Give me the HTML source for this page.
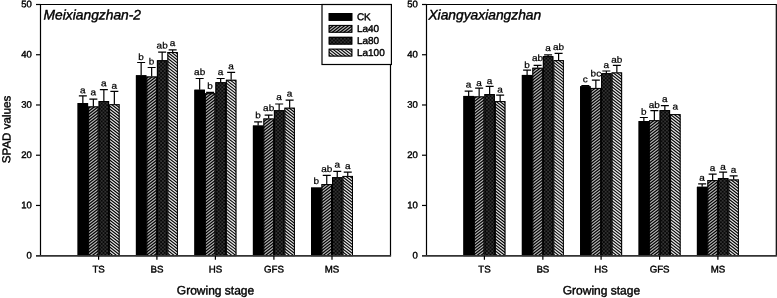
<!DOCTYPE html>
<html><head><meta charset="utf-8"><style>
html,body{margin:0;padding:0;background:#fff;}
body{width:777px;height:298px;overflow:hidden;}
svg{display:block;font-family:"Liberation Sans",sans-serif;filter:blur(0.3px);}
text{stroke:#000;stroke-width:0.4px;}
.l{stroke-width:0.25px;}
</style></head><body>
<svg width="777" height="298" viewBox="0 0 777 298">
<defs>
<pattern id="p80" patternUnits="userSpaceOnUse" width="3.6" height="3.6">
<rect width="3.6" height="3.6" fill="#080808"/>
<circle cx="0.9" cy="0.9" r="0.85" fill="#444"/>
<circle cx="2.7" cy="2.7" r="0.85" fill="#444"/>
</pattern>
<clipPath id="c1"><rect x="88.1" y="106.4" width="10.5" height="149.3"/><rect x="146.4" y="76.5" width="10.5" height="179.2"/><rect x="204.9" y="93.2" width="10.5" height="162.5"/><rect x="263.4" y="118.5" width="10.5" height="137.2"/><rect x="321.5" y="184.1" width="10.5" height="71.6"/><rect x="473.9" y="96.4" width="10.5" height="159.3"/><rect x="532.35" y="67.8" width="10.5" height="187.9"/><rect x="590.6" y="87.9" width="10.5" height="167.8"/><rect x="649.1" y="120.2" width="10.5" height="135.5"/><rect x="707.4" y="180.1" width="10.5" height="75.6"/></clipPath>
<clipPath id="l1"><rect x="328.7" y="24.9" width="23.6" height="7.8"/></clipPath>
<clipPath id="c3"><rect x="109.1" y="104.2" width="10.5" height="151.5"/><rect x="167.4" y="52" width="10.5" height="203.7"/><rect x="225.9" y="79.8" width="10.5" height="175.9"/><rect x="284.4" y="107.7" width="10.5" height="148"/><rect x="342.5" y="175.9" width="10.5" height="79.8"/><rect x="494.9" y="101.1" width="10.5" height="154.6"/><rect x="553.35" y="60.1" width="10.5" height="195.6"/><rect x="611.6" y="72.4" width="10.5" height="183.3"/><rect x="670.1" y="114.1" width="10.5" height="141.6"/><rect x="728.4" y="179.5" width="10.5" height="76.2"/></clipPath>
<clipPath id="l3"><rect x="328.7" y="48.7" width="23.6" height="7.8"/></clipPath>
<path id="s40" stroke="#b4b4b4" stroke-width="1.18" fill="none" d="M-5,-6.1L782,-619.96M-5,-3.1L782,-616.96M-5,-0.1L782,-613.96M-5,2.9L782,-610.96M-5,5.9L782,-607.96M-5,8.9L782,-604.96M-5,11.9L782,-601.96M-5,14.9L782,-598.96M-5,17.9L782,-595.96M-5,20.9L782,-592.96M-5,23.9L782,-589.96M-5,26.9L782,-586.96M-5,29.9L782,-583.96M-5,32.9L782,-580.96M-5,35.9L782,-577.96M-5,38.9L782,-574.96M-5,41.9L782,-571.96M-5,44.9L782,-568.96M-5,47.9L782,-565.96M-5,50.9L782,-562.96M-5,53.9L782,-559.96M-5,56.9L782,-556.96M-5,59.9L782,-553.96M-5,62.9L782,-550.96M-5,65.9L782,-547.96M-5,68.9L782,-544.96M-5,71.9L782,-541.96M-5,74.9L782,-538.96M-5,77.9L782,-535.96M-5,80.9L782,-532.96M-5,83.9L782,-529.96M-5,86.9L782,-526.96M-5,89.9L782,-523.96M-5,92.9L782,-520.96M-5,95.9L782,-517.96M-5,98.9L782,-514.96M-5,101.9L782,-511.96M-5,104.9L782,-508.96M-5,107.9L782,-505.96M-5,110.9L782,-502.96M-5,113.9L782,-499.96M-5,116.9L782,-496.96M-5,119.9L782,-493.96M-5,122.9L782,-490.96M-5,125.9L782,-487.96M-5,128.9L782,-484.96M-5,131.9L782,-481.96M-5,134.9L782,-478.96M-5,137.9L782,-475.96M-5,140.9L782,-472.96M-5,143.9L782,-469.96M-5,146.9L782,-466.96M-5,149.9L782,-463.96M-5,152.9L782,-460.96M-5,155.9L782,-457.96M-5,158.9L782,-454.96M-5,161.9L782,-451.96M-5,164.9L782,-448.96M-5,167.9L782,-445.96M-5,170.9L782,-442.96M-5,173.9L782,-439.96M-5,176.9L782,-436.96M-5,179.9L782,-433.96M-5,182.9L782,-430.96M-5,185.9L782,-427.96M-5,188.9L782,-424.96M-5,191.9L782,-421.96M-5,194.9L782,-418.96M-5,197.9L782,-415.96M-5,200.9L782,-412.96M-5,203.9L782,-409.96M-5,206.9L782,-406.96M-5,209.9L782,-403.96M-5,212.9L782,-400.96M-5,215.9L782,-397.96M-5,218.9L782,-394.96M-5,221.9L782,-391.96M-5,224.9L782,-388.96M-5,227.9L782,-385.96M-5,230.9L782,-382.96M-5,233.9L782,-379.96M-5,236.9L782,-376.96M-5,239.9L782,-373.96M-5,242.9L782,-370.96M-5,245.9L782,-367.96M-5,248.9L782,-364.96M-5,251.9L782,-361.96M-5,254.9L782,-358.96M-5,257.9L782,-355.96M-5,260.9L782,-352.96M-5,263.9L782,-349.96M-5,266.9L782,-346.96M-5,269.9L782,-343.96M-5,272.9L782,-340.96M-5,275.9L782,-337.96M-5,278.9L782,-334.96M-5,281.9L782,-331.96M-5,284.9L782,-328.96M-5,287.9L782,-325.96M-5,290.9L782,-322.96M-5,293.9L782,-319.96M-5,296.9L782,-316.96M-5,299.9L782,-313.96M-5,302.9L782,-310.96M-5,305.9L782,-307.96M-5,308.9L782,-304.96M-5,311.9L782,-301.96M-5,314.9L782,-298.96M-5,317.9L782,-295.96M-5,320.9L782,-292.96M-5,323.9L782,-289.96M-5,326.9L782,-286.96M-5,329.9L782,-283.96M-5,332.9L782,-280.96M-5,335.9L782,-277.96M-5,338.9L782,-274.96M-5,341.9L782,-271.96M-5,344.9L782,-268.96M-5,347.9L782,-265.96M-5,350.9L782,-262.96M-5,353.9L782,-259.96M-5,356.9L782,-256.96M-5,359.9L782,-253.96M-5,362.9L782,-250.96M-5,365.9L782,-247.96M-5,368.9L782,-244.96M-5,371.9L782,-241.96M-5,374.9L782,-238.96M-5,377.9L782,-235.96M-5,380.9L782,-232.96M-5,383.9L782,-229.96M-5,386.9L782,-226.96M-5,389.9L782,-223.96M-5,392.9L782,-220.96M-5,395.9L782,-217.96M-5,398.9L782,-214.96M-5,401.9L782,-211.96M-5,404.9L782,-208.96M-5,407.9L782,-205.96M-5,410.9L782,-202.96M-5,413.9L782,-199.96M-5,416.9L782,-196.96M-5,419.9L782,-193.96M-5,422.9L782,-190.96M-5,425.9L782,-187.96M-5,428.9L782,-184.96M-5,431.9L782,-181.96M-5,434.9L782,-178.96M-5,437.9L782,-175.96M-5,440.9L782,-172.96M-5,443.9L782,-169.96M-5,446.9L782,-166.96M-5,449.9L782,-163.96M-5,452.9L782,-160.96M-5,455.9L782,-157.96M-5,458.9L782,-154.96M-5,461.9L782,-151.96M-5,464.9L782,-148.96M-5,467.9L782,-145.96M-5,470.9L782,-142.96M-5,473.9L782,-139.96M-5,476.9L782,-136.96M-5,479.9L782,-133.96M-5,482.9L782,-130.96M-5,485.9L782,-127.96M-5,488.9L782,-124.96M-5,491.9L782,-121.96M-5,494.9L782,-118.96M-5,497.9L782,-115.96M-5,500.9L782,-112.96M-5,503.9L782,-109.96M-5,506.9L782,-106.96M-5,509.9L782,-103.96M-5,512.9L782,-100.96M-5,515.9L782,-97.96M-5,518.9L782,-94.96M-5,521.9L782,-91.96M-5,524.9L782,-88.96M-5,527.9L782,-85.96M-5,530.9L782,-82.96M-5,533.9L782,-79.96M-5,536.9L782,-76.96M-5,539.9L782,-73.96M-5,542.9L782,-70.96M-5,545.9L782,-67.96M-5,548.9L782,-64.96M-5,551.9L782,-61.96M-5,554.9L782,-58.96M-5,557.9L782,-55.96M-5,560.9L782,-52.96M-5,563.9L782,-49.96M-5,566.9L782,-46.96M-5,569.9L782,-43.96M-5,572.9L782,-40.96M-5,575.9L782,-37.96M-5,578.9L782,-34.96M-5,581.9L782,-31.96M-5,584.9L782,-28.96M-5,587.9L782,-25.96M-5,590.9L782,-22.96M-5,593.9L782,-19.96M-5,596.9L782,-16.96M-5,599.9L782,-13.96M-5,602.9L782,-10.96M-5,605.9L782,-7.96M-5,608.9L782,-4.96M-5,611.9L782,-1.96M-5,614.9L782,1.04M-5,617.9L782,4.04M-5,620.9L782,7.04M-5,623.9L782,10.04M-5,626.9L782,13.04M-5,629.9L782,16.04M-5,632.9L782,19.04M-5,635.9L782,22.04M-5,638.9L782,25.04M-5,641.9L782,28.04M-5,644.9L782,31.04M-5,647.9L782,34.04M-5,650.9L782,37.04M-5,653.9L782,40.04M-5,656.9L782,43.04M-5,659.9L782,46.04M-5,662.9L782,49.04M-5,665.9L782,52.04M-5,668.9L782,55.04M-5,671.9L782,58.04M-5,674.9L782,61.04M-5,677.9L782,64.04M-5,680.9L782,67.04M-5,683.9L782,70.04M-5,686.9L782,73.04M-5,689.9L782,76.04M-5,692.9L782,79.04M-5,695.9L782,82.04M-5,698.9L782,85.04M-5,701.9L782,88.04M-5,704.9L782,91.04M-5,707.9L782,94.04M-5,710.9L782,97.04M-5,713.9L782,100.04M-5,716.9L782,103.04M-5,719.9L782,106.04M-5,722.9L782,109.04M-5,725.9L782,112.04M-5,728.9L782,115.04M-5,731.9L782,118.04M-5,734.9L782,121.04M-5,737.9L782,124.04M-5,740.9L782,127.04M-5,743.9L782,130.04M-5,746.9L782,133.04M-5,749.9L782,136.04M-5,752.9L782,139.04M-5,755.9L782,142.04M-5,758.9L782,145.04M-5,761.9L782,148.04M-5,764.9L782,151.04M-5,767.9L782,154.04M-5,770.9L782,157.04M-5,773.9L782,160.04M-5,776.9L782,163.04M-5,779.9L782,166.04M-5,782.9L782,169.04M-5,785.9L782,172.04M-5,788.9L782,175.04M-5,791.9L782,178.04M-5,794.9L782,181.04M-5,797.9L782,184.04M-5,800.9L782,187.04M-5,803.9L782,190.04M-5,806.9L782,193.04M-5,809.9L782,196.04M-5,812.9L782,199.04M-5,815.9L782,202.04M-5,818.9L782,205.04M-5,821.9L782,208.04M-5,824.9L782,211.04M-5,827.9L782,214.04M-5,830.9L782,217.04M-5,833.9L782,220.04M-5,836.9L782,223.04M-5,839.9L782,226.04M-5,842.9L782,229.04M-5,845.9L782,232.04M-5,848.9L782,235.04M-5,851.9L782,238.04M-5,854.9L782,241.04M-5,857.9L782,244.04M-5,860.9L782,247.04M-5,863.9L782,250.04M-5,866.9L782,253.04M-5,869.9L782,256.04M-5,872.9L782,259.04M-5,875.9L782,262.04M-5,878.9L782,265.04M-5,881.9L782,268.04M-5,884.9L782,271.04M-5,887.9L782,274.04M-5,890.9L782,277.04M-5,893.9L782,280.04M-5,896.9L782,283.04M-5,899.9L782,286.04M-5,902.9L782,289.04M-5,905.9L782,292.04M-5,908.9L782,295.04M-5,911.9L782,298.04M-5,914.9L782,301.04M-5,917.9L782,304.04M-5,920.9L782,307.04"/>
<path id="s100" stroke="#e6e6e6" stroke-width="1.28" fill="none" d="M-5,-623.86L782,-10M-5,-620.86L782,-7M-5,-617.86L782,-4M-5,-614.86L782,-1M-5,-611.86L782,2M-5,-608.86L782,5M-5,-605.86L782,8M-5,-602.86L782,11M-5,-599.86L782,14M-5,-596.86L782,17M-5,-593.86L782,20M-5,-590.86L782,23M-5,-587.86L782,26M-5,-584.86L782,29M-5,-581.86L782,32M-5,-578.86L782,35M-5,-575.86L782,38M-5,-572.86L782,41M-5,-569.86L782,44M-5,-566.86L782,47M-5,-563.86L782,50M-5,-560.86L782,53M-5,-557.86L782,56M-5,-554.86L782,59M-5,-551.86L782,62M-5,-548.86L782,65M-5,-545.86L782,68M-5,-542.86L782,71M-5,-539.86L782,74M-5,-536.86L782,77M-5,-533.86L782,80M-5,-530.86L782,83M-5,-527.86L782,86M-5,-524.86L782,89M-5,-521.86L782,92M-5,-518.86L782,95M-5,-515.86L782,98M-5,-512.86L782,101M-5,-509.86L782,104M-5,-506.86L782,107M-5,-503.86L782,110M-5,-500.86L782,113M-5,-497.86L782,116M-5,-494.86L782,119M-5,-491.86L782,122M-5,-488.86L782,125M-5,-485.86L782,128M-5,-482.86L782,131M-5,-479.86L782,134M-5,-476.86L782,137M-5,-473.86L782,140M-5,-470.86L782,143M-5,-467.86L782,146M-5,-464.86L782,149M-5,-461.86L782,152M-5,-458.86L782,155M-5,-455.86L782,158M-5,-452.86L782,161M-5,-449.86L782,164M-5,-446.86L782,167M-5,-443.86L782,170M-5,-440.86L782,173M-5,-437.86L782,176M-5,-434.86L782,179M-5,-431.86L782,182M-5,-428.86L782,185M-5,-425.86L782,188M-5,-422.86L782,191M-5,-419.86L782,194M-5,-416.86L782,197M-5,-413.86L782,200M-5,-410.86L782,203M-5,-407.86L782,206M-5,-404.86L782,209M-5,-401.86L782,212M-5,-398.86L782,215M-5,-395.86L782,218M-5,-392.86L782,221M-5,-389.86L782,224M-5,-386.86L782,227M-5,-383.86L782,230M-5,-380.86L782,233M-5,-377.86L782,236M-5,-374.86L782,239M-5,-371.86L782,242M-5,-368.86L782,245M-5,-365.86L782,248M-5,-362.86L782,251M-5,-359.86L782,254M-5,-356.86L782,257M-5,-353.86L782,260M-5,-350.86L782,263M-5,-347.86L782,266M-5,-344.86L782,269M-5,-341.86L782,272M-5,-338.86L782,275M-5,-335.86L782,278M-5,-332.86L782,281M-5,-329.86L782,284M-5,-326.86L782,287M-5,-323.86L782,290M-5,-320.86L782,293M-5,-317.86L782,296M-5,-314.86L782,299M-5,-311.86L782,302M-5,-308.86L782,305M-5,-305.86L782,308M-5,-302.86L782,311M-5,-299.86L782,314M-5,-296.86L782,317M-5,-293.86L782,320M-5,-290.86L782,323M-5,-287.86L782,326M-5,-284.86L782,329M-5,-281.86L782,332M-5,-278.86L782,335M-5,-275.86L782,338M-5,-272.86L782,341M-5,-269.86L782,344M-5,-266.86L782,347M-5,-263.86L782,350M-5,-260.86L782,353M-5,-257.86L782,356M-5,-254.86L782,359M-5,-251.86L782,362M-5,-248.86L782,365M-5,-245.86L782,368M-5,-242.86L782,371M-5,-239.86L782,374M-5,-236.86L782,377M-5,-233.86L782,380M-5,-230.86L782,383M-5,-227.86L782,386M-5,-224.86L782,389M-5,-221.86L782,392M-5,-218.86L782,395M-5,-215.86L782,398M-5,-212.86L782,401M-5,-209.86L782,404M-5,-206.86L782,407M-5,-203.86L782,410M-5,-200.86L782,413M-5,-197.86L782,416M-5,-194.86L782,419M-5,-191.86L782,422M-5,-188.86L782,425M-5,-185.86L782,428M-5,-182.86L782,431M-5,-179.86L782,434M-5,-176.86L782,437M-5,-173.86L782,440M-5,-170.86L782,443M-5,-167.86L782,446M-5,-164.86L782,449M-5,-161.86L782,452M-5,-158.86L782,455M-5,-155.86L782,458M-5,-152.86L782,461M-5,-149.86L782,464M-5,-146.86L782,467M-5,-143.86L782,470M-5,-140.86L782,473M-5,-137.86L782,476M-5,-134.86L782,479M-5,-131.86L782,482M-5,-128.86L782,485M-5,-125.86L782,488M-5,-122.86L782,491M-5,-119.86L782,494M-5,-116.86L782,497M-5,-113.86L782,500M-5,-110.86L782,503M-5,-107.86L782,506M-5,-104.86L782,509M-5,-101.86L782,512M-5,-98.86L782,515M-5,-95.86L782,518M-5,-92.86L782,521M-5,-89.86L782,524M-5,-86.86L782,527M-5,-83.86L782,530M-5,-80.86L782,533M-5,-77.86L782,536M-5,-74.86L782,539M-5,-71.86L782,542M-5,-68.86L782,545M-5,-65.86L782,548M-5,-62.86L782,551M-5,-59.86L782,554M-5,-56.86L782,557M-5,-53.86L782,560M-5,-50.86L782,563M-5,-47.86L782,566M-5,-44.86L782,569M-5,-41.86L782,572M-5,-38.86L782,575M-5,-35.86L782,578M-5,-32.86L782,581M-5,-29.86L782,584M-5,-26.86L782,587M-5,-23.86L782,590M-5,-20.86L782,593M-5,-17.86L782,596M-5,-14.86L782,599M-5,-11.86L782,602M-5,-8.86L782,605M-5,-5.86L782,608M-5,-2.86L782,611M-5,0.14L782,614M-5,3.14L782,617M-5,6.14L782,620M-5,9.14L782,623M-5,12.14L782,626M-5,15.14L782,629M-5,18.14L782,632M-5,21.14L782,635M-5,24.14L782,638M-5,27.14L782,641M-5,30.14L782,644M-5,33.14L782,647M-5,36.14L782,650M-5,39.14L782,653M-5,42.14L782,656M-5,45.14L782,659M-5,48.14L782,662M-5,51.14L782,665M-5,54.14L782,668M-5,57.14L782,671M-5,60.14L782,674M-5,63.14L782,677M-5,66.14L782,680M-5,69.14L782,683M-5,72.14L782,686M-5,75.14L782,689M-5,78.14L782,692M-5,81.14L782,695M-5,84.14L782,698M-5,87.14L782,701M-5,90.14L782,704M-5,93.14L782,707M-5,96.14L782,710M-5,99.14L782,713M-5,102.14L782,716M-5,105.14L782,719M-5,108.14L782,722M-5,111.14L782,725M-5,114.14L782,728M-5,117.14L782,731M-5,120.14L782,734M-5,123.14L782,737M-5,126.14L782,740M-5,129.14L782,743M-5,132.14L782,746M-5,135.14L782,749M-5,138.14L782,752M-5,141.14L782,755M-5,144.14L782,758M-5,147.14L782,761M-5,150.14L782,764M-5,153.14L782,767M-5,156.14L782,770M-5,159.14L782,773M-5,162.14L782,776M-5,165.14L782,779M-5,168.14L782,782M-5,171.14L782,785M-5,174.14L782,788M-5,177.14L782,791M-5,180.14L782,794M-5,183.14L782,797M-5,186.14L782,800M-5,189.14L782,803M-5,192.14L782,806M-5,195.14L782,809M-5,198.14L782,812M-5,201.14L782,815M-5,204.14L782,818M-5,207.14L782,821M-5,210.14L782,824M-5,213.14L782,827M-5,216.14L782,830M-5,219.14L782,833M-5,222.14L782,836M-5,225.14L782,839M-5,228.14L782,842M-5,231.14L782,845M-5,234.14L782,848M-5,237.14L782,851M-5,240.14L782,854M-5,243.14L782,857M-5,246.14L782,860M-5,249.14L782,863M-5,252.14L782,866M-5,255.14L782,869M-5,258.14L782,872M-5,261.14L782,875M-5,264.14L782,878M-5,267.14L782,881M-5,270.14L782,884M-5,273.14L782,887M-5,276.14L782,890M-5,279.14L782,893M-5,282.14L782,896M-5,285.14L782,899M-5,288.14L782,902M-5,291.14L782,905M-5,294.14L782,908M-5,297.14L782,911M-5,300.14L782,914M-5,303.14L782,917"/>
</defs>
<rect width="777" height="298" fill="#fff"/>
<path fill="#000" d="M77.6,103.1h10.5v152.6h-10.5zM135.9,75.3h10.5v180.4h-10.5zM194.4,89.7h10.5v166h-10.5zM252.9,125.6h10.5v130.1h-10.5zM311,187.6h10.5v68.1h-10.5zM463.4,95.9h10.5v159.8h-10.5zM521.85,74.9h10.5v180.8h-10.5zM580.1,86.2h10.5v169.5h-10.5zM638.6,121.1h10.5v134.6h-10.5zM696.9,186.8h10.5v68.9h-10.5zM88.1,106.4h10.5v149.3h-10.5zM146.4,76.5h10.5v179.2h-10.5zM204.9,93.2h10.5v162.5h-10.5zM263.4,118.5h10.5v137.2h-10.5zM321.5,184.1h10.5v71.6h-10.5zM473.9,96.4h10.5v159.3h-10.5zM532.35,67.8h10.5v187.9h-10.5zM590.6,87.9h10.5v167.8h-10.5zM649.1,120.2h10.5v135.5h-10.5zM707.4,180.1h10.5v75.6h-10.5zM109.1,104.2h10.5v151.5h-10.5zM167.4,52h10.5v203.7h-10.5zM225.9,79.8h10.5v175.9h-10.5zM284.4,107.7h10.5v148h-10.5zM342.5,175.9h10.5v79.8h-10.5zM494.9,101.1h10.5v154.6h-10.5zM553.35,60.1h10.5v195.6h-10.5zM611.6,72.4h10.5v183.3h-10.5zM670.1,114.1h10.5v141.6h-10.5zM728.4,179.5h10.5v76.2h-10.5z"/>
<g fill="url(#p80)"><rect x="98.6" y="101" width="10.5" height="154.7"/><rect x="156.9" y="60.2" width="10.5" height="195.5"/><rect x="215.4" y="82.2" width="10.5" height="173.5"/><rect x="273.9" y="110.2" width="10.5" height="145.5"/><rect x="332" y="177.2" width="10.5" height="78.5"/><rect x="484.4" y="94.1" width="10.5" height="161.6"/><rect x="542.85" y="56.1" width="10.5" height="199.6"/><rect x="601.1" y="73.2" width="10.5" height="182.5"/><rect x="659.6" y="110.1" width="10.5" height="145.6"/><rect x="717.9" y="178.1" width="10.5" height="77.6"/></g>
<use href="#s40" clip-path="url(#c1)"/>
<use href="#s100" clip-path="url(#c3)"/>
<g fill="none" stroke="#000" stroke-width="1"><rect x="78.1" y="103.6" width="9.5" height="152.1"/><rect x="136.4" y="75.8" width="9.5" height="179.9"/><rect x="194.9" y="90.2" width="9.5" height="165.5"/><rect x="253.4" y="126.1" width="9.5" height="129.6"/><rect x="311.5" y="188.1" width="9.5" height="67.6"/><rect x="463.9" y="96.4" width="9.5" height="159.3"/><rect x="522.35" y="75.4" width="9.5" height="180.3"/><rect x="580.6" y="86.7" width="9.5" height="169"/><rect x="639.1" y="121.6" width="9.5" height="134.1"/><rect x="697.4" y="187.3" width="9.5" height="68.4"/><rect x="88.6" y="106.9" width="9.5" height="148.8"/><rect x="146.9" y="77" width="9.5" height="178.7"/><rect x="205.4" y="93.7" width="9.5" height="162"/><rect x="263.9" y="119" width="9.5" height="136.7"/><rect x="322" y="184.6" width="9.5" height="71.1"/><rect x="474.4" y="96.9" width="9.5" height="158.8"/><rect x="532.85" y="68.3" width="9.5" height="187.4"/><rect x="591.1" y="88.4" width="9.5" height="167.3"/><rect x="649.6" y="120.7" width="9.5" height="135"/><rect x="707.9" y="180.6" width="9.5" height="75.1"/><rect x="99.1" y="101.5" width="9.5" height="154.2"/><rect x="157.4" y="60.7" width="9.5" height="195"/><rect x="215.9" y="82.7" width="9.5" height="173"/><rect x="274.4" y="110.7" width="9.5" height="145"/><rect x="332.5" y="177.7" width="9.5" height="78"/><rect x="484.9" y="94.6" width="9.5" height="161.1"/><rect x="543.35" y="56.6" width="9.5" height="199.1"/><rect x="601.6" y="73.7" width="9.5" height="182"/><rect x="660.1" y="110.6" width="9.5" height="145.1"/><rect x="718.4" y="178.6" width="9.5" height="77.1"/><rect x="109.6" y="104.7" width="9.5" height="151"/><rect x="167.9" y="52.5" width="9.5" height="203.2"/><rect x="226.4" y="80.3" width="9.5" height="175.4"/><rect x="284.9" y="108.2" width="9.5" height="147.5"/><rect x="343" y="176.4" width="9.5" height="79.3"/><rect x="495.4" y="101.6" width="9.5" height="154.1"/><rect x="553.85" y="60.6" width="9.5" height="195.1"/><rect x="612.1" y="72.9" width="9.5" height="182.8"/><rect x="670.6" y="114.6" width="9.5" height="141.1"/><rect x="728.9" y="180" width="9.5" height="75.7"/></g>
<path d="M82.85,103.1V95.8M78.85,95.8H86.85" stroke="#000" stroke-width="1.2" fill="none"/>
<text transform="translate(82.85 93.2) rotate(0.05) scale(1 0.9)" font-size="10" text-anchor="middle" class="l">a</text>
<path d="M93.35,106.4V99.2M89.35,99.2H97.35" stroke="#000" stroke-width="1.2" fill="none"/>
<text transform="translate(93.35 95.2) rotate(0.05) scale(1 0.9)" font-size="10" text-anchor="middle" class="l">a</text>
<path d="M103.85,101V89.7M99.85,89.7H107.85" stroke="#000" stroke-width="1.2" fill="none"/>
<text transform="translate(103.85 86.2) rotate(0.05) scale(1 0.9)" font-size="10" text-anchor="middle" class="l">a</text>
<path d="M114.35,104.2V91.4M110.35,91.4H118.35" stroke="#000" stroke-width="1.2" fill="none"/>
<text transform="translate(114.35 88.8) rotate(0.05) scale(1 0.9)" font-size="10" text-anchor="middle" class="l">a</text>
<path d="M141.15,75.3V62.5M137.15,62.5H145.15" stroke="#000" stroke-width="1.2" fill="none"/>
<text transform="translate(141.15 60.1) rotate(0.05) scale(1 0.9)" font-size="10" text-anchor="middle" class="l">b</text>
<path d="M151.65,76.5V67.5M147.65,67.5H155.65" stroke="#000" stroke-width="1.2" fill="none"/>
<text transform="translate(151.65 64.5) rotate(0.05) scale(1 0.9)" font-size="10" text-anchor="middle" class="l">b</text>
<path d="M162.15,60.2V52.1M158.15,52.1H166.15" stroke="#000" stroke-width="1.2" fill="none"/>
<text transform="translate(162.15 48.5) rotate(0.05) scale(1 0.9)" font-size="10" text-anchor="middle" class="l">ab</text>
<path d="M172.65,52V49.9M168.65,49.9H176.65" stroke="#000" stroke-width="1.2" fill="none"/>
<text transform="translate(172.65 45.9) rotate(0.05) scale(1 0.9)" font-size="10" text-anchor="middle" class="l">a</text>
<path d="M199.65,89.7V78.5M195.65,78.5H203.65" stroke="#000" stroke-width="1.2" fill="none"/>
<text transform="translate(199.65 75.1) rotate(0.05) scale(1 0.9)" font-size="10" text-anchor="middle" class="l">ab</text>
<path d="M210.15,93.2V92.4M206.15,92.4H214.15" stroke="#000" stroke-width="1.2" fill="none"/>
<text transform="translate(210.15 88.9) rotate(0.05) scale(1 0.9)" font-size="10" text-anchor="middle" class="l">b</text>
<path d="M220.65,82.2V78.5M216.65,78.5H224.65" stroke="#000" stroke-width="1.2" fill="none"/>
<text transform="translate(220.65 75.1) rotate(0.05) scale(1 0.9)" font-size="10" text-anchor="middle" class="l">a</text>
<path d="M231.15,79.8V72.3M227.15,72.3H235.15" stroke="#000" stroke-width="1.2" fill="none"/>
<text transform="translate(231.15 69.3) rotate(0.05) scale(1 0.9)" font-size="10" text-anchor="middle" class="l">a</text>
<path d="M258.15,125.6V121.9M254.15,121.9H262.15" stroke="#000" stroke-width="1.2" fill="none"/>
<text transform="translate(258.15 118.2) rotate(0.05) scale(1 0.9)" font-size="10" text-anchor="middle" class="l">b</text>
<path d="M268.65,118.5V115.2M264.65,115.2H272.65" stroke="#000" stroke-width="1.2" fill="none"/>
<text transform="translate(268.65 111.1) rotate(0.05) scale(1 0.9)" font-size="10" text-anchor="middle" class="l">ab</text>
<path d="M279.15,110.2V104M275.15,104H283.15" stroke="#000" stroke-width="1.2" fill="none"/>
<text transform="translate(279.15 100.1) rotate(0.05) scale(1 0.9)" font-size="10" text-anchor="middle" class="l">a</text>
<path d="M289.65,107.7V100.1M285.65,100.1H293.65" stroke="#000" stroke-width="1.2" fill="none"/>
<text transform="translate(289.65 96.5) rotate(0.05) scale(1 0.9)" font-size="10" text-anchor="middle" class="l">a</text>
<text transform="translate(316.25 184.1) rotate(0.05) scale(1 0.9)" font-size="10" text-anchor="middle" class="l">b</text>
<path d="M326.75,184.1V175.3M322.75,175.3H330.75" stroke="#000" stroke-width="1.2" fill="none"/>
<text transform="translate(326.75 172.1) rotate(0.05) scale(1 0.9)" font-size="10" text-anchor="middle" class="l">ab</text>
<path d="M337.25,177.2V171.4M333.25,171.4H341.25" stroke="#000" stroke-width="1.2" fill="none"/>
<text transform="translate(337.25 167.5) rotate(0.05) scale(1 0.9)" font-size="10" text-anchor="middle" class="l">a</text>
<path d="M347.75,175.9V172.1M343.75,172.1H351.75" stroke="#000" stroke-width="1.2" fill="none"/>
<text transform="translate(347.75 169.1) rotate(0.05) scale(1 0.9)" font-size="10" text-anchor="middle" class="l">a</text>
<path d="M40.5,255.7V4.5H390.5V255.7" fill="none" stroke="#000" stroke-width="1.2"/>
<path d="M36,255.9H391.1" fill="none" stroke="#333" stroke-width="1.8"/>
<text transform="translate(31.8 258.55) rotate(0.05)" font-size="9.5" text-anchor="end">0</text>
<path d="M36,205.46H40.5" stroke="#000" stroke-width="1.2"/>
<text transform="translate(31.8 208.31) rotate(0.05)" font-size="9.5" text-anchor="end">10</text>
<path d="M36,155.22H40.5" stroke="#000" stroke-width="1.2"/>
<text transform="translate(31.8 158.07) rotate(0.05)" font-size="9.5" text-anchor="end">20</text>
<path d="M36,104.98H40.5" stroke="#000" stroke-width="1.2"/>
<text transform="translate(31.8 107.83) rotate(0.05)" font-size="9.5" text-anchor="end">30</text>
<path d="M36,54.74H40.5" stroke="#000" stroke-width="1.2"/>
<text transform="translate(31.8 57.59) rotate(0.05)" font-size="9.5" text-anchor="end">40</text>
<path d="M36,4.5H40.5" stroke="#000" stroke-width="1.2"/>
<text transform="translate(31.8 7.35) rotate(0.05)" font-size="9.5" text-anchor="end">50</text>
<path d="M98.6,255.7V259.7" stroke="#000" stroke-width="1.2"/>
<text transform="translate(98.6 272.6) rotate(0.05)" font-size="9.7" text-anchor="middle">TS</text>
<path d="M156.9,255.7V259.7" stroke="#000" stroke-width="1.2"/>
<text transform="translate(156.9 272.6) rotate(0.05)" font-size="9.7" text-anchor="middle">BS</text>
<path d="M215.4,255.7V259.7" stroke="#000" stroke-width="1.2"/>
<text transform="translate(215.4 272.6) rotate(0.05)" font-size="9.7" text-anchor="middle">HS</text>
<path d="M273.9,255.7V259.7" stroke="#000" stroke-width="1.2"/>
<text transform="translate(273.9 272.6) rotate(0.05)" font-size="9.7" text-anchor="middle">GFS</text>
<path d="M332,255.7V259.7" stroke="#000" stroke-width="1.2"/>
<text transform="translate(332 272.6) rotate(0.05)" font-size="9.7" text-anchor="middle">MS</text>
<text transform="translate(215.5 294.4) rotate(0.05)" font-size="12" text-anchor="middle">Growing stage</text>
<text transform="translate(43.6 19.4) rotate(0.05)" font-size="13.8" font-style="italic">Meixiangzhan-2</text>
<rect x="322" y="4.5" width="69.4" height="60" fill="#fff" stroke="#000" stroke-width="1.2"/>
<path fill="#000" d="M328.7,13h23.6v7.8h-23.6zM328.7,24.9h23.6v7.8h-23.6zM328.7,48.7h23.6v7.8h-23.6z"/>
<g fill="url(#p80)"><rect x="328.7" y="36.8" width="23.6" height="7.8"/></g>
<use href="#s40" clip-path="url(#l1)"/>
<use href="#s100" clip-path="url(#l3)"/>
<rect x="329.2" y="13.5" width="22.6" height="6.8" fill="none" stroke="#000" stroke-width="1"/>
<text transform="translate(356.9 20.2) rotate(0.05)" font-size="10">CK</text>
<rect x="329.2" y="25.4" width="22.6" height="6.8" fill="none" stroke="#000" stroke-width="1"/>
<text transform="translate(356.9 32.1) rotate(0.05)" font-size="10">La40</text>
<rect x="329.2" y="37.3" width="22.6" height="6.8" fill="none" stroke="#000" stroke-width="1"/>
<text transform="translate(356.9 44) rotate(0.05)" font-size="10">La80</text>
<rect x="329.2" y="49.2" width="22.6" height="6.8" fill="none" stroke="#000" stroke-width="1"/>
<text transform="translate(356.9 55.9) rotate(0.05)" font-size="10">La100</text>
<path d="M468.65,95.9V91.2M464.65,91.2H472.65" stroke="#000" stroke-width="1.2" fill="none"/>
<text transform="translate(468.65 87.4) rotate(0.05) scale(1 0.9)" font-size="10" text-anchor="middle" class="l">a</text>
<path d="M479.15,96.4V88.1M475.15,88.1H483.15" stroke="#000" stroke-width="1.2" fill="none"/>
<text transform="translate(479.15 86.1) rotate(0.05) scale(1 0.9)" font-size="10" text-anchor="middle" class="l">a</text>
<path d="M489.65,94.1V86.3M485.65,86.3H493.65" stroke="#000" stroke-width="1.2" fill="none"/>
<text transform="translate(489.65 84) rotate(0.05) scale(1 0.9)" font-size="10" text-anchor="middle" class="l">a</text>
<path d="M500.15,101.1V95.2M496.15,95.2H504.15" stroke="#000" stroke-width="1.2" fill="none"/>
<text transform="translate(500.15 92.4) rotate(0.05) scale(1 0.9)" font-size="10" text-anchor="middle" class="l">a</text>
<path d="M527.1,74.9V70.2M523.1,70.2H531.1" stroke="#000" stroke-width="1.2" fill="none"/>
<text transform="translate(527.1 67.9) rotate(0.05) scale(1 0.9)" font-size="10" text-anchor="middle" class="l">b</text>
<path d="M537.6,67.8V65.3M533.6,65.3H541.6" stroke="#000" stroke-width="1.2" fill="none"/>
<text transform="translate(537.6 61.1) rotate(0.05) scale(1 0.9)" font-size="10" text-anchor="middle" class="l">ab</text>
<path d="M548.1,56.1V54.8M544.1,54.8H552.1" stroke="#000" stroke-width="1.2" fill="none"/>
<text transform="translate(548.1 51.1) rotate(0.05) scale(1 0.9)" font-size="10" text-anchor="middle" class="l">a</text>
<path d="M558.6,60.1V53.4M554.6,53.4H562.6" stroke="#000" stroke-width="1.2" fill="none"/>
<text transform="translate(558.6 50.1) rotate(0.05) scale(1 0.9)" font-size="10" text-anchor="middle" class="l">ab</text>
<path d="M585.35,86.2V85.6M581.35,85.6H589.35" stroke="#000" stroke-width="1.2" fill="none"/>
<text transform="translate(585.35 82.2) rotate(0.05) scale(1 0.9)" font-size="10" text-anchor="middle" class="l">c</text>
<path d="M595.85,87.9V80.1M591.85,80.1H599.85" stroke="#000" stroke-width="1.2" fill="none"/>
<text transform="translate(595.85 76.6) rotate(0.05) scale(1 0.9)" font-size="10" text-anchor="middle" class="l">bc</text>
<path d="M606.35,73.2V71M602.35,71H610.35" stroke="#000" stroke-width="1.2" fill="none"/>
<text transform="translate(606.35 68.1) rotate(0.05) scale(1 0.9)" font-size="10" text-anchor="middle" class="l">a</text>
<path d="M616.85,72.4V65.4M612.85,65.4H620.85" stroke="#000" stroke-width="1.2" fill="none"/>
<text transform="translate(616.85 62.8) rotate(0.05) scale(1 0.9)" font-size="10" text-anchor="middle" class="l">ab</text>
<path d="M643.85,121.1V117.5M639.85,117.5H647.85" stroke="#000" stroke-width="1.2" fill="none"/>
<text transform="translate(643.85 114.8) rotate(0.05) scale(1 0.9)" font-size="10" text-anchor="middle" class="l">b</text>
<path d="M654.35,120.2V110.6M650.35,110.6H658.35" stroke="#000" stroke-width="1.2" fill="none"/>
<text transform="translate(654.35 108.1) rotate(0.05) scale(1 0.9)" font-size="10" text-anchor="middle" class="l">ab</text>
<path d="M664.85,110.1V105.7M660.85,105.7H668.85" stroke="#000" stroke-width="1.2" fill="none"/>
<text transform="translate(664.85 102.1) rotate(0.05) scale(1 0.9)" font-size="10" text-anchor="middle" class="l">a</text>
<text transform="translate(675.35 109.4) rotate(0.05) scale(1 0.9)" font-size="10" text-anchor="middle" class="l">a</text>
<path d="M702.15,186.8V183.9M698.15,183.9H706.15" stroke="#000" stroke-width="1.2" fill="none"/>
<text transform="translate(702.15 180.8) rotate(0.05) scale(1 0.9)" font-size="10" text-anchor="middle" class="l">a</text>
<path d="M712.65,180.1V174.1M708.65,174.1H716.65" stroke="#000" stroke-width="1.2" fill="none"/>
<text transform="translate(712.65 171.1) rotate(0.05) scale(1 0.9)" font-size="10" text-anchor="middle" class="l">a</text>
<path d="M723.15,178.1V172.1M719.15,172.1H727.15" stroke="#000" stroke-width="1.2" fill="none"/>
<text transform="translate(723.15 169.8) rotate(0.05) scale(1 0.9)" font-size="10" text-anchor="middle" class="l">a</text>
<path d="M733.65,179.5V175.8M729.65,175.8H737.65" stroke="#000" stroke-width="1.2" fill="none"/>
<text transform="translate(733.65 172.8) rotate(0.05) scale(1 0.9)" font-size="10" text-anchor="middle" class="l">a</text>
<path d="M426.5,255.7V4.5H776.3V255.7" fill="none" stroke="#000" stroke-width="1.2"/>
<path d="M422,255.9H776.9" fill="none" stroke="#333" stroke-width="1.8"/>
<text transform="translate(417.8 258.55) rotate(0.05)" font-size="9.5" text-anchor="end">0</text>
<path d="M422,205.46H426.5" stroke="#000" stroke-width="1.2"/>
<text transform="translate(417.8 208.31) rotate(0.05)" font-size="9.5" text-anchor="end">10</text>
<path d="M422,155.22H426.5" stroke="#000" stroke-width="1.2"/>
<text transform="translate(417.8 158.07) rotate(0.05)" font-size="9.5" text-anchor="end">20</text>
<path d="M422,104.98H426.5" stroke="#000" stroke-width="1.2"/>
<text transform="translate(417.8 107.83) rotate(0.05)" font-size="9.5" text-anchor="end">30</text>
<path d="M422,54.74H426.5" stroke="#000" stroke-width="1.2"/>
<text transform="translate(417.8 57.59) rotate(0.05)" font-size="9.5" text-anchor="end">40</text>
<path d="M422,4.5H426.5" stroke="#000" stroke-width="1.2"/>
<text transform="translate(417.8 7.35) rotate(0.05)" font-size="9.5" text-anchor="end">50</text>
<path d="M484.4,255.7V259.7" stroke="#000" stroke-width="1.2"/>
<text transform="translate(484.4 272.6) rotate(0.05)" font-size="9.7" text-anchor="middle">TS</text>
<path d="M542.85,255.7V259.7" stroke="#000" stroke-width="1.2"/>
<text transform="translate(542.85 272.6) rotate(0.05)" font-size="9.7" text-anchor="middle">BS</text>
<path d="M601.1,255.7V259.7" stroke="#000" stroke-width="1.2"/>
<text transform="translate(601.1 272.6) rotate(0.05)" font-size="9.7" text-anchor="middle">HS</text>
<path d="M659.6,255.7V259.7" stroke="#000" stroke-width="1.2"/>
<text transform="translate(659.6 272.6) rotate(0.05)" font-size="9.7" text-anchor="middle">GFS</text>
<path d="M717.9,255.7V259.7" stroke="#000" stroke-width="1.2"/>
<text transform="translate(717.9 272.6) rotate(0.05)" font-size="9.7" text-anchor="middle">MS</text>
<text transform="translate(601.4 294.4) rotate(0.05)" font-size="12" text-anchor="middle">Growing stage</text>
<text transform="translate(428.4 19.4) rotate(0.05)" font-size="13.8" font-style="italic">Xiangyaxiangzhan</text>
<text transform="translate(10.4 129.5) rotate(-89.95)" font-size="11.6" text-anchor="middle">SPAD values</text>
</svg>
</body></html>
